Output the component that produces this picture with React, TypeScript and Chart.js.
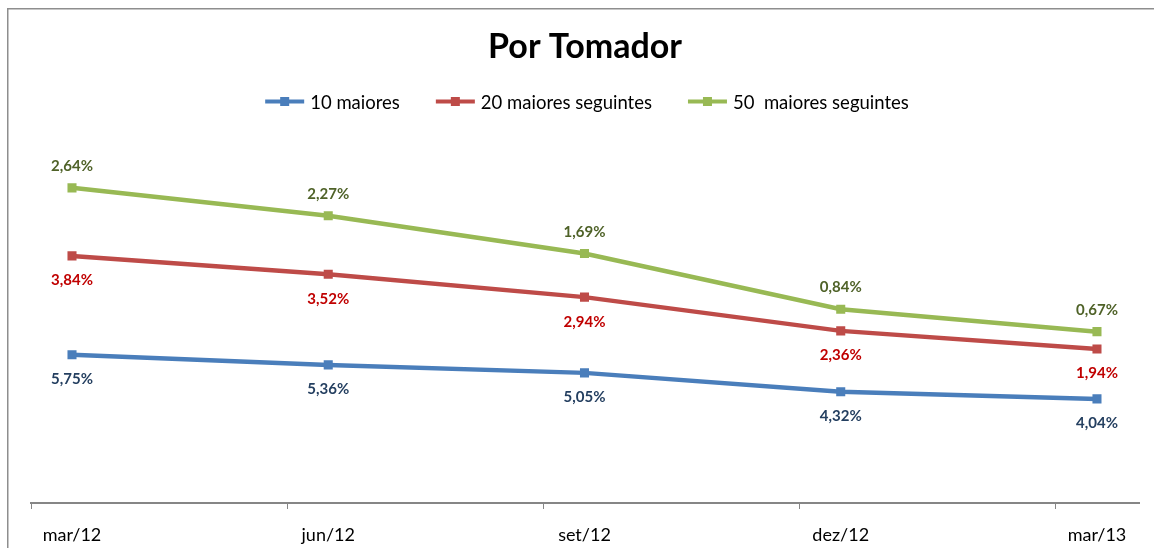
import React, { useEffect, useRef } from "react";
import { Chart, registerables } from "chart.js";

Chart.register(...registerables);

const categories = ["mar/12", "jun/12", "set/12", "dez/12", "mar/13"];
const seriesNames = ["10 maiores", "20 maiores seguintes", "50  maiores seguintes"];
const values10 = [5.75, 5.36, 5.05, 4.32, 4.04];
const values20 = [3.84, 3.52, 2.94, 2.36, 1.94];
const values50 = [2.64, 2.27, 1.69, 0.84, 0.67];
const lineColors = ["#4A7EBB", "#BE4B48", "#98B954"];
const labelColors = ["#243F60", "#C00000", "#4F6228"];
const tickValues = [-0.16, 0.84, 1.84, 2.84, 3.84];

const FONT = "Lato, 'Open Sans', sans-serif";

const fmt = (v: number) => v.toFixed(2).replace(".", ",") + "%";

const framePlugin = {
  id: "frame",
  beforeDraw(chart: any) {
    const ctx = chart.ctx;
    ctx.save();
    ctx.strokeStyle = "#8E8E8E";
    ctx.lineWidth = 1.5;
    ctx.beginPath();
    ctx.moveTo(7.75, chart.height);
    ctx.lineTo(7.75, 8.75);
    ctx.lineTo(chart.width, 8.75);
    ctx.stroke();
    ctx.restore();
  },
};

const legendPlugin = {
  id: "customLegend",
  afterDraw(chart: any) {
    const ctx = chart.ctx;
    ctx.save();
    ctx.font = `18.5px ${FONT}`;
    const lineW = 39;
    const gap = 6;
    const itemGap = 36;
    const widths = chart.data.datasets.map((d: any) => ctx.measureText(d.label).width);
    const total = widths.reduce((a: number, w: number) => a + lineW + gap + w, 0) + itemGap * (widths.length - 1);
    const center = (chart.chartArea.left + chart.chartArea.right) / 2 + 2;
    let x = center - total / 2;
    const yLine = 101.5;
    chart.data.datasets.forEach((d: any, i: number) => {
      ctx.strokeStyle = d.borderColor;
      ctx.lineWidth = 4;
      ctx.beginPath();
      ctx.moveTo(x, yLine);
      ctx.lineTo(x + lineW, yLine);
      ctx.stroke();
      ctx.fillStyle = d.borderColor;
      ctx.fillRect(x + lineW / 2 - 4.5, yLine - 4.5, 9, 9);
      ctx.fillStyle = "#000";
      ctx.textBaseline = "alphabetic";
      ctx.textAlign = "left";
      ctx.fillText(d.label, x + lineW + gap, 108.5);
      x += lineW + gap + widths[i] + itemGap;
    });
    ctx.restore();
  },
};

const dataLabelPlugin = {
  id: "dataLabels",
  afterDatasetsDraw(chart: any) {
    const ctx = chart.ctx;
    ctx.save();
    ctx.font = `bold 15px ${FONT}`;
    ctx.textAlign = "center";
    ctx.textBaseline = "alphabetic";
    chart.data.datasets.forEach((d: any, i: number) => {
      const meta = chart.getDatasetMeta(i);
      ctx.fillStyle = labelColors[i];
      meta.data.forEach((pt: any, j: number) => {
        const v = d.data[j].y;
        const dy = i === 2 ? -17 : 29.5;
        ctx.fillText(fmt(v), pt.x, pt.y + dy);
      });
    });
    ctx.restore();
  },
};

export default function App() {
  const ref = useRef<HTMLCanvasElement | null>(null);
  useEffect(() => {
    if (!ref.current) return;
    const series = [values10, values20, values50];
    const chart = new Chart(ref.current, {
      type: "line",
      data: {
        datasets: series.map((vals, i) => ({
          label: seriesNames[i],
          data: vals.map((v, j) => ({ x: j, y: v })),
          borderColor: lineColors[i],
          backgroundColor: lineColors[i],
          borderWidth: 4.5,
          pointStyle: "rect",
          pointRadius: 6.4,
          pointBorderWidth: 0,
          pointBackgroundColor: lineColors[i],
          tension: 0,
          fill: false,
        })),
      },
      options: {
        responsive: false,
        animation: false,
        layout: { padding: { left: 31, right: 15, top: 0, bottom: 1.6 } },
        plugins: {
          legend: { display: false },
          tooltip: { enabled: false },
          title: {
            display: true,
            text: "Por Tomador",
            color: "#000",
            font: { family: FONT, size: 34, weight: "bold", lineHeight: 1.2 },
            padding: { top: 27, bottom: 62.6 },
          },
        },
        scales: {
          x: {
            type: "linear",
            min: -0.16,
            max: 4.164,
            afterBuildTicks: (axis: any) => {
              axis.ticks = tickValues.map((v) => ({ value: v }));
            },
            afterFit: (axis: any) => {
              axis.paddingLeft = 0;
              axis.paddingRight = 0;
              axis.height = 43.4;
            },
            ticks: {
              autoSkip: false,
              maxRotation: 0,
              labelOffset: 41,
              padding: 15,
              color: "#000",
              font: { family: FONT, size: 18 },
              callback: (value: any) => categories[Math.round(Number(value) + 0.16)] ?? "",
            },
            grid: {
              display: true,
              drawOnChartArea: false,
              drawTicks: true,
              tickLength: 6,
              color: "#868686",
              lineWidth: 1,
            },
            border: { display: true, color: "#868686", width: 2 },
          },
          y: {
            display: false,
            stacked: true,
            min: 0,
            max: 14.46,
          },
        },
      },
      plugins: [framePlugin, legendPlugin, dataLabelPlugin],
    } as any);
    return () => chart.destroy();
  }, []);
  return (
    <div style={{ position: "fixed", left: 0, top: 0, width: 1154, height: 548, background: "#fff" }}>
      <canvas ref={ref} width={1154} height={548} style={{ display: "block" }} />
    </div>
  );
}
